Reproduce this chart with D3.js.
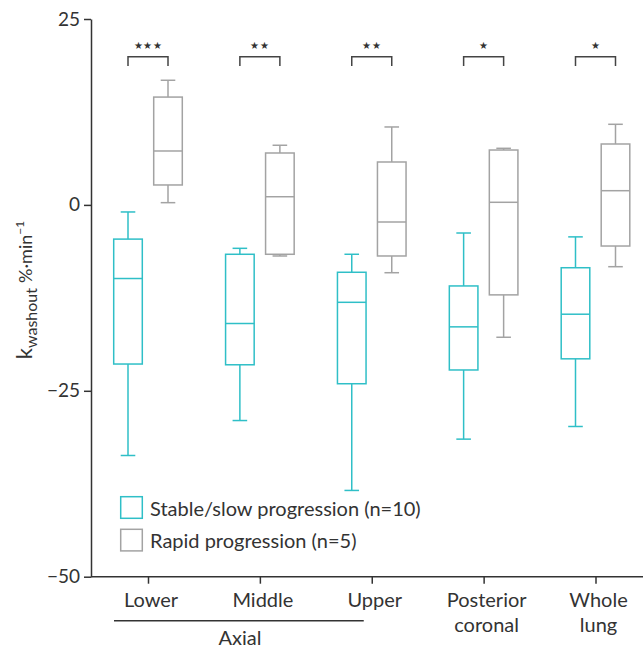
<!DOCTYPE html>
<html><head><meta charset="utf-8">
<script src="https://cdn.jsdelivr.net/npm/d3@7"></script>
<style>body{margin:0;background:#fff}svg{display:block}text{font-family:Lato,"Noto Sans",sans-serif;fill:#333}</style>
</head><body><svg id="c" width="643" height="648"></svg>
<script>
const categories = ["Lower","Middle","Upper","Posterior\ncoronal","Whole\nlung"];
const seriesNames = ["Stable/slow progression (n=10)","Rapid progression (n=5)"];
// [min, q1, median, q3, max]
const stableBox = [
  [-33.7,-21.4,-9.9,-4.6,-0.95],
  [-29.0,-21.5,-15.95,-6.64,-5.84],
  [-38.4,-24.05,-13.1,-9.06,-6.64],
  [-31.5,-22.2,-16.4,-10.9,-3.78],
  [-29.8,-20.7,-14.7,-8.45,-4.3]
];
const rapidBox = [
  [0.3,2.68,7.25,14.5,16.76],
  [-6.87,-6.64,1.1,6.98,8.02],
  [-9.12,-6.87,-2.3,5.77,10.48],
  [-17.8,-12.1,0.35,7.38,7.61],
  [-8.31,-5.53,1.91,8.19,10.84]
];
const significance = ["***","**","**","*","*"];
const yTicks = [25,0,-25,-50];
const colors = ["#2fbfc7","#a3a3a3"];

const svg = d3.select("#c");
const y = d3.scaleLinear().domain([-50,25]).range([576.7,19]);
const x = d3.scalePoint().domain(categories).range([148,595.5]);
const off = [-20,20], bw = 28.6, cw = 14.6;
const axisX = 91;

// y axis
const ya = svg.append("g").attr("transform",`translate(${axisX},0)`)
  .call(d3.axisLeft(y).tickValues(yTicks).tickSize(7).tickSizeOuter(0).tickFormat(d3.format("d")));
ya.selectAll("path,line").attr("stroke","#333").attr("stroke-width",1.5);
ya.selectAll("text").attr("font-size",19).attr("font-family","Lato").attr("fill","#333").attr("dx",-1);

// x axis
const xa = svg.append("g").attr("transform",`translate(0,${y(-50)})`)
  .call(d3.axisBottom(x).tickSize(7).tickSizeOuter(0).tickFormat(""));
xa.select(".domain").remove();
xa.selectAll("line").attr("stroke","#333").attr("stroke-width",1.5);
svg.append("line").attr("x1",axisX).attr("x2",643).attr("y1",y(-50)).attr("y2",y(-50))
  .attr("stroke","#333").attr("stroke-width",1.5);
categories.forEach(c=>{
  const lines = c.split("\n");
  const t = svg.append("text").attr("text-anchor","middle").attr("font-size",20).attr("fill","#333");
  lines.forEach((l,i)=>t.append("tspan").attr("x",x(c)+3).attr("y",606.7+i*25).text(l));
});
// Axial grouping
svg.append("line").attr("x1",x(categories[0])-34).attr("x2",x(categories[2])-8)
  .attr("y1",620.7).attr("y2",620.7).attr("stroke","#333").attr("stroke-width",1.5);
svg.append("text").attr("x",x(categories[1])-20).attr("y",645).attr("text-anchor","middle")
  .attr("font-size",20).text("Axial");

// y label
const yl = svg.append("text").attr("transform","translate(32,290) rotate(-90)").attr("text-anchor","middle");
yl.append("tspan").attr("font-size",22).text("k");
yl.append("tspan").attr("font-size",16).attr("dy",5).text("washout");
yl.append("tspan").attr("font-size",18).attr("dy",-5).attr("dx",5).text("%·min");
yl.append("tspan").attr("font-size",12).attr("dy",-8).text("−1");

// boxes
[stableBox,rapidBox].forEach((data,si)=>{
  const g = svg.append("g").attr("stroke",colors[si]).attr("stroke-width",1.5).attr("fill","none");
  data.forEach((b,i)=>{
    const cx = x(categories[i])+off[si];
    const [mn,q1,md,q3,mx] = b;
    g.append("line").attr("x1",cx).attr("x2",cx).attr("y1",y(mx)).attr("y2",y(q3));
    g.append("line").attr("x1",cx).attr("x2",cx).attr("y1",y(q1)).attr("y2",y(mn));
    g.append("line").attr("x1",cx-cw/2).attr("x2",cx+cw/2).attr("y1",y(mx)).attr("y2",y(mx));
    g.append("line").attr("x1",cx-cw/2).attr("x2",cx+cw/2).attr("y1",y(mn)).attr("y2",y(mn));
    g.append("rect").attr("x",cx-bw/2).attr("width",bw).attr("y",y(q3)).attr("height",y(q1)-y(q3));
    g.append("line").attr("x1",cx-bw/2).attr("x2",cx+bw/2).attr("y1",y(md)).attr("y2",y(md));
  });
});

// significance brackets
const bTop = 56.7, bLeg = 66;
significance.forEach((s,i)=>{
  const x1 = x(categories[i])+off[0], x2 = x(categories[i])+off[1];
  svg.append("path").attr("d",`M${x1},${bLeg}V${bTop}H${x2}V${bLeg}`)
    .attr("fill","none").attr("stroke","#444").attr("stroke-width",1.5);
  svg.append("text").attr("x",(x1+x2)/2).attr("y",49).attr("text-anchor","middle")
    .attr("font-family","DejaVu Sans").attr("font-size",10).attr("letter-spacing",0.5).attr("fill","#222")
    .text(s.replace(/\*/g,"★"));
});

// legend
const lg = svg.append("g");
seriesNames.forEach((n,i)=>{
  const yy = 496.7 + i*32.6;
  lg.append("rect").attr("x",120.7).attr("y",yy).attr("width",21.6).attr("height",21.6)
    .attr("fill","none").attr("stroke",colors[i]).attr("stroke-width",1.5);
  lg.append("text").attr("x",150).attr("y",yy+19).attr("font-size",20).text(n);
});
</script></body></html>
